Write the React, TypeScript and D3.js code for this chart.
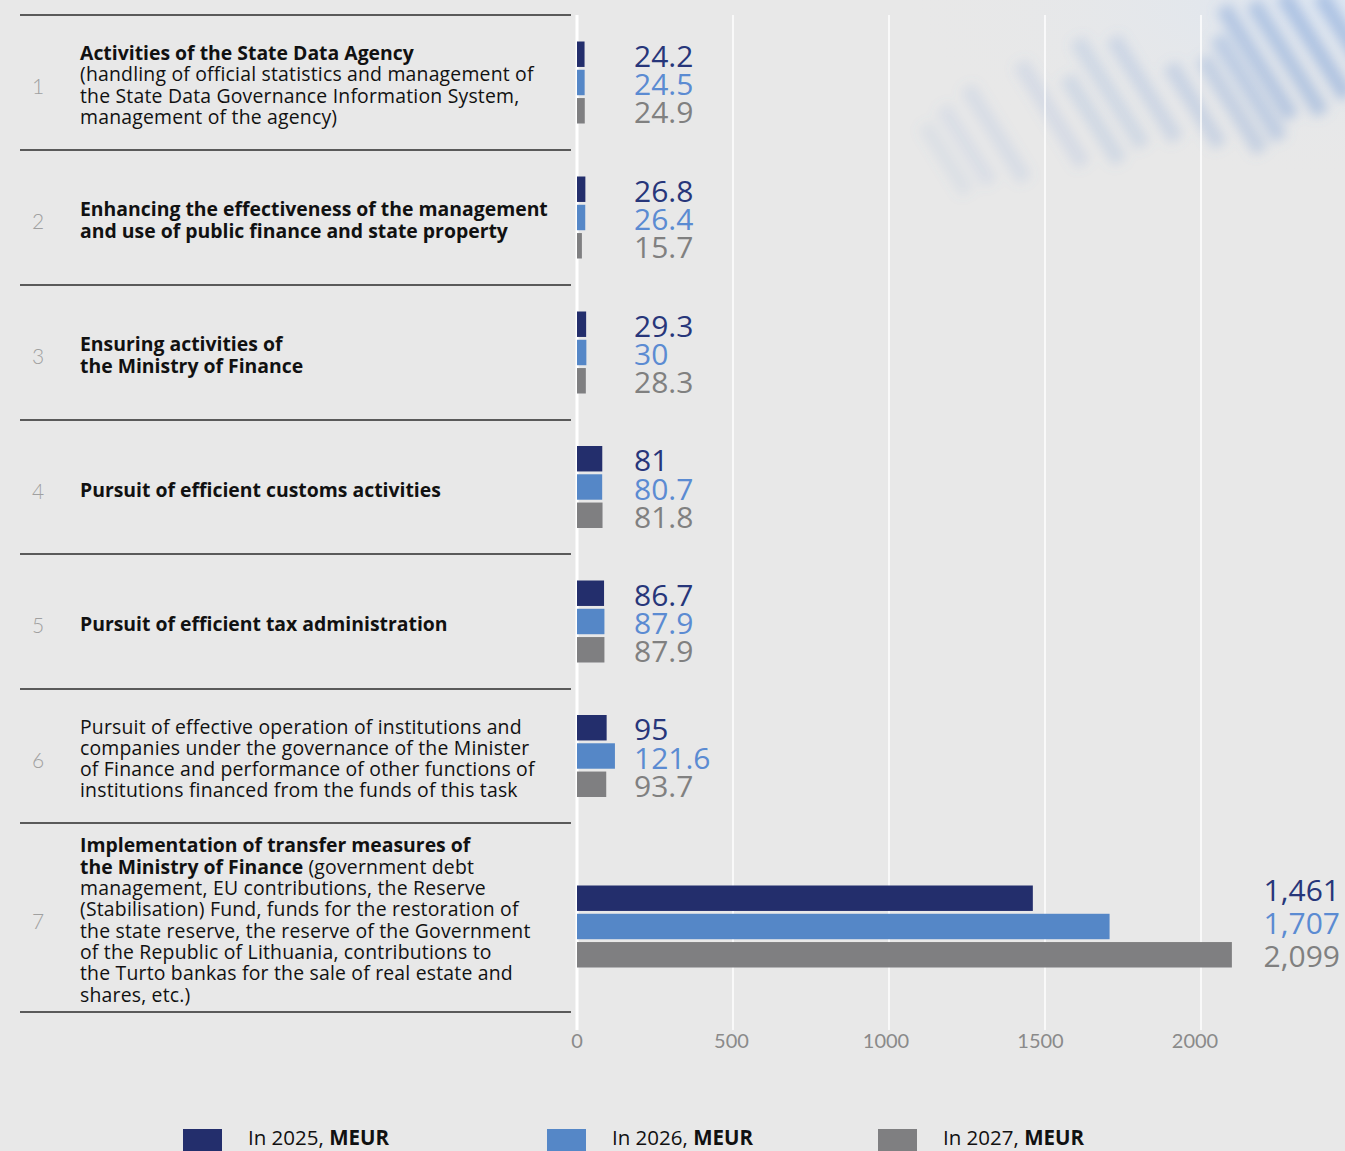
import React from "react";
import * as d3 from "d3";

const W = 1345;
const H = 1151;

// programme rows (number + label lines, each line = [text, bold] segments)
type Seg = [string, boolean];
const rowNumbers = ["1", "2", "3", "4", "5", "6", "7"];
const rowTexts: Seg[][][] = [
  [
    [["Activities of the State Data Agency", true]],
    [["(handling of official statistics and management of", false]],
    [["the State Data Governance Information System,", false]],
    [["management of the agency)", false]],
  ],
  [
    [["Enhancing the effectiveness of the management", true]],
    [["and use of public finance and state property", true]],
  ],
  [[["Ensuring activities of", true]], [["the Ministry of Finance", true]]],
  [[["Pursuit of efficient  customs activities", true]]],
  [[["Pursuit of efficient tax administration", true]]],
  [
    [["Pursuit of effective operation of institutions and", false]],
    [["companies under the governance of the Minister", false]],
    [["of Finance and performance of other functions of", false]],
    [["institutions financed from the funds of this task", false]],
  ],
  [
    [["Implementation of transfer measures of", true]],
    [["the Ministry of Finance", true], [" (government debt", false]],
    [["management, EU contributions, the Reserve", false]],
    [["(Stabilisation) Fund, funds for the restoration of", false]],
    [["the state reserve, the reserve of the Government", false]],
    [["of the Republic of Lithuania, contributions to", false]],
    [["the Turto bankas for the sale of real estate and", false]],
    [["shares, etc.)", false]],
  ],
];

const values2025 = [24.2, 26.8, 29.3, 81, 86.7, 95, 1461];
const values2026 = [24.5, 26.4, 30, 80.7, 87.9, 121.6, 1707];
const values2027 = [24.9, 15.7, 28.3, 81.8, 87.9, 93.7, 2099];
const seriesYears = ["2025", "2026", "2027"];
const unitLabel = "MEUR";
const tickValues = [0, 500, 1000, 1500, 2000];

const barColors = ["#232e6c", "#5587c7", "#7f7f81"];
const labelColors = ["#27367a", "#5b8bd2", "#808080"];

// layout
const rowEdges = [15, 150, 285, 420, 554, 689, 823, 1012];
const plotTop = 15;
const plotBottom = 1030;
const tableLeft = 20;
const tableRight = 571;
const lineH = 21.3;
const textFont = "'Open Sans', sans-serif";

const x = d3.scaleLinear().domain([0, 2000]).range([577, 1201]);
const inner = d3.scaleBand<number>().domain([0, 1, 2]).range([0, 82]).paddingInner(0.1);

const fmt = (v: number) => (v >= 1000 ? d3.format(",")(v) : String(v));

// blurred background picture, top right
const stripes: [number, number, number, number][] = [
  [925, 125, 80, 0.1], [943, 107, 90, 0.12], [967, 87, 110, 0.14], [1020, 63, 120, 0.16],
  [1067, 77, 100, 0.2], [1077, 40, 125, 0.2], [1113, 38, 120, 0.22], [1170, 65, 95, 0.26],
  [1203, 58, 110, 0.3], [1217, 37, 120, 0.34], [1223, 7, 130, 0.4], [1253, 3, 130, 0.42],
  [1283, -5, 120, 0.45], [1320, -5, 110, 0.45],
];

export default function App() {
  const series = [values2025, values2026, values2027];
  return (
    <div style={{ position: "absolute", left: 0, top: 0 }}>
      <svg width={W} height={H} style={{ display: "block" }} fontFamily={textFont}>
        <defs>
          <filter id="blur" x="-30%" y="-30%" width="160%" height="160%">
            <feGaussianBlur stdDeviation="6" />
          </filter>
          <radialGradient id="haze" cx="1" cy="0" r="0.7">
            <stop offset="0" stopColor="#dde6f2" />
            <stop offset="1" stopColor="#e8e8e8" stopOpacity="0" />
          </radialGradient>
        </defs>
        <rect width={W} height={H} fill="#e8e8e8" />
        <rect x={700} y={0} width={645} height={260} fill="url(#haze)" />
        <g filter="url(#blur)">
          {stripes.map(([sx, sy, len, op], i) => (
            <rect
              key={i}
              x={0}
              y={-8}
              width={len}
              height={16}
              fill="#6f97d2"
              opacity={op}
              transform={`translate(${sx},${sy}) rotate(58)`}
            />
          ))}
        </g>

        {/* gridlines */}
        {tickValues.map((t) => (
          <line
            key={t}
            x1={x(t)}
            x2={x(t)}
            y1={plotTop}
            y2={plotBottom}
            stroke="#ffffff"
            strokeWidth={t === 0 ? 3 : 1.5}
          />
        ))}

        {/* table */}
        {rowEdges.map((y, i) => (
          <line key={i} x1={tableLeft} x2={tableRight} y1={y} y2={y} stroke="#2b2b2b" strokeWidth={1.5} />
        ))}
        {rowTexts.map((lines, r) => {
          const c = (rowEdges[r] + rowEdges[r + 1]) / 2;
          const y0 = c - ((lines.length - 1) / 2) * lineH + 1.5;
          return (
            <g key={r}>
              <text x={38} y={c + 3} textAnchor="middle" dominantBaseline="central" fontFamily="Lato, sans-serif" fontSize={21} fontWeight={300} fill="#a0a0a0">
                {rowNumbers[r]}
              </text>
              {lines.map((segs, j) => (
                <text key={j} x={80} y={y0 + j * lineH} dominantBaseline="central" fontSize={19.4} fill="#111">
                  {segs.map(([t, b], k) => (
                    <tspan key={k} fontWeight={b ? 700 : 400} letterSpacing={b ? 0 : 0.2}>
                      {t}
                    </tspan>
                  ))}
                </text>
              ))}
            </g>
          );
        })}

        {/* bars */}
        {rowNumbers.map((_, r) => {
          const last = r === rowNumbers.length - 1;
          const c = (rowEdges[r] + (last ? plotBottom : rowEdges[r + 1])) / 2;
          const top = c - 41;
          return (
            <g key={r}>
              {series.map((vals, s) => {
                const v = vals[r];
                const by = top + (inner(s) ?? 0);
                const bc = by + inner.bandwidth() / 2;
                const big = v >= 1000;
                return (
                  <g key={s}>
                    <rect x={x(0)} y={by} width={x(v) - x(0)} height={inner.bandwidth()} fill={barColors[s]} />
                    <text
                      x={big ? W - 5 : 634}
                      y={big ? bc - 4 + (s - 1) * 5 : bc + 1}
                      textAnchor={big ? "end" : "start"}
                      dominantBaseline="central"
                      fontSize={30}
                      fill={labelColors[s]}
                    >
                      {fmt(v)}
                    </text>
                  </g>
                );
              })}
            </g>
          );
        })}

        {/* axis tick labels */}
        {tickValues.map((t) => (
          <text key={t} x={x(t) - t * 0.003} y={1040} textAnchor="middle" dominantBaseline="central" fontFamily="Lato, sans-serif" fontSize={20} fill="#8a8a8a">
            {t}
          </text>
        ))}

        {/* legend */}
        {seriesYears.map((yr, i) => {
          const lx = [183, 547, 878][i];
          return (
            <g key={yr}>
              <rect x={lx} y={1129} width={39} height={30} fill={barColors[i]} />
              <text x={lx + 65} y={1145} fontSize={20.5} fill="#111">
                <tspan fontWeight={400}>{`In ${yr}, `}</tspan>
                <tspan fontWeight={700}>{unitLabel}</tspan>
              </text>
            </g>
          );
        })}
      </svg>
    </div>
  );
}
